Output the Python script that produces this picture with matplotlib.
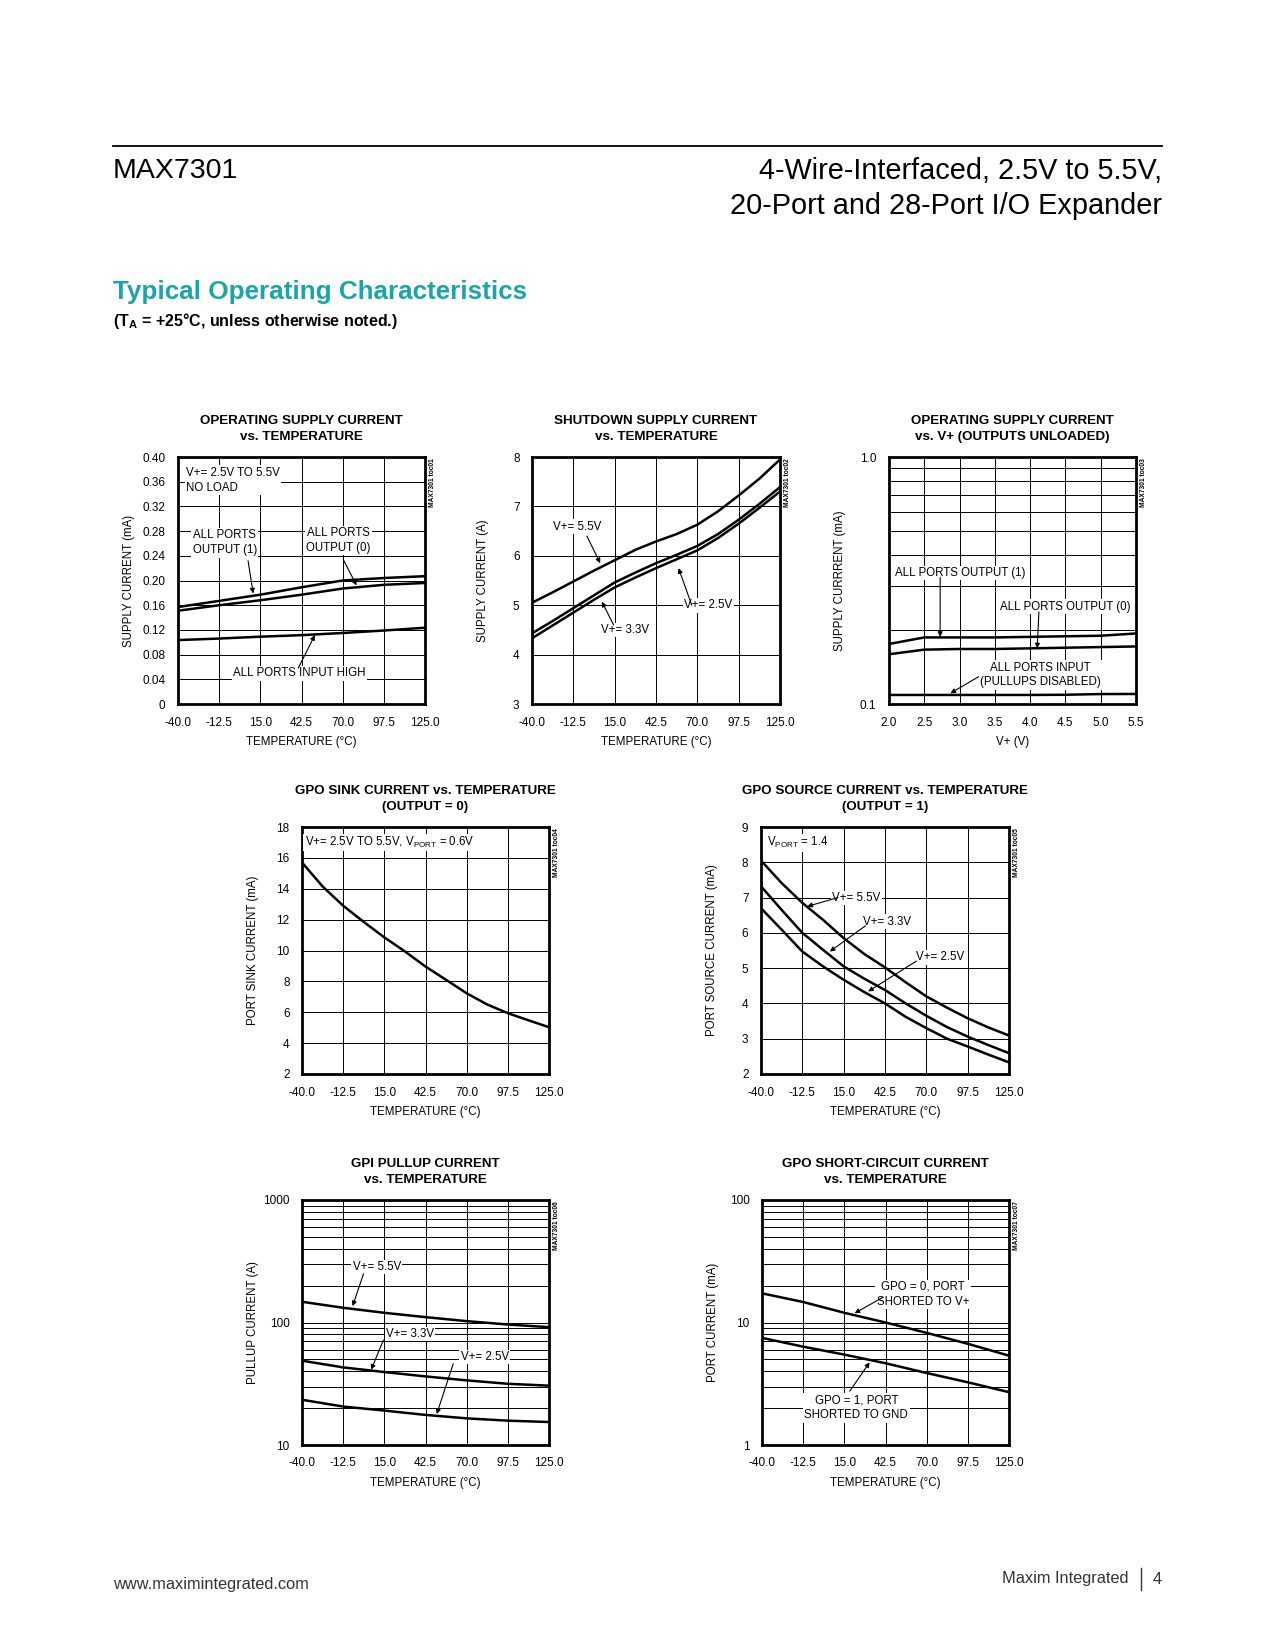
import matplotlib
matplotlib.use("Agg")
import matplotlib.pyplot as plt

# ---- data ----
temps = [-40, -12.5, 15, 42.5, 70, 97.5, 125]
temps13 = [-40, -26.25, -12.5, 1.25, 15, 28.75, 42.5, 56.25, 70, 83.75, 97.5, 111.25, 125]
temp_labels = ["-40.0", "-12.5", "15.0", "42.5", "70.0", "97.5", "125.0"]

# 1: operating supply current vs temperature (mA)
op_out1 = [0.157, 0.167, 0.177, 0.189, 0.200, 0.204, 0.207]
op_out0 = [0.151, 0.160, 0.168, 0.177, 0.187, 0.193, 0.196]
op_inhigh = [0.1035, 0.106, 0.109, 0.1115, 0.115, 0.119, 0.1235]

# 2: shutdown supply current vs temperature
sd_55 = [5.05, 5.26, 5.48, 5.70, 5.91, 6.12, 6.29, 6.44, 6.63, 6.90, 7.22, 7.56, 7.95]
sd_33 = [4.43, 4.68, 4.94, 5.20, 5.46, 5.66, 5.85, 6.02, 6.20, 6.44, 6.73, 7.05, 7.39]
sd_25 = [4.33, 4.59, 4.85, 5.11, 5.36, 5.56, 5.75, 5.93, 6.11, 6.36, 6.65, 6.97, 7.30]

# 3: operating supply current vs V+
vplus = [2.0, 2.5, 3.0, 3.5, 4.0, 4.5, 5.0, 5.5]
vp_out1 = [0.175, 0.186, 0.186, 0.186, 0.187, 0.188, 0.189, 0.193]
vp_out0 = [0.159, 0.166, 0.167, 0.167, 0.168, 0.169, 0.170, 0.171]
vp_input = [0.1088, 0.1088, 0.1088, 0.1088, 0.1088, 0.1090, 0.1097, 0.1098]

# 4: GPO sink current
sink = [15.7, 14.15, 12.9, 11.85, 10.85, 9.94, 8.96, 8.10, 7.23, 6.50, 5.94, 5.48, 5.03]

# 5: GPO source current
src_55 = [8.05, 7.41, 6.85, 6.37, 5.85, 5.40, 5.02, 4.60, 4.20, 3.88, 3.58, 3.32, 3.09]
src_33 = [7.32, 6.65, 6.00, 5.52, 5.05, 4.70, 4.38, 4.00, 3.65, 3.33, 3.06, 2.82, 2.59]
src_25 = [6.70, 6.09, 5.47, 5.05, 4.67, 4.32, 4.00, 3.62, 3.30, 3.00, 2.78, 2.55, 2.33]

# 6: GPI pullup current
pu_55 = [147.6, 131.9, 120.0, 110.6, 102.6, 96.3, 91.6]
pu_33 = [48.8, 43.0, 39.4, 36.3, 33.7, 31.6, 30.5]
pu_25 = [23.4, 20.6, 19.1, 17.6, 16.5, 15.8, 15.4]

# 7: GPO short-circuit current
sc_gpo0 = [17.3, 14.7, 12.0, 10.0, 8.23, 6.7, 5.36]
sc_gpo1 = [7.49, 6.35, 5.47, 4.65, 3.87, 3.25, 2.70]

W, H = 1275, 1650
plt.rcParams["font.family"] = ["Liberation Sans Narrow", "Liberation Sans", "DejaVu Sans"]
plt.rcParams["mathtext.fontset"] = "custom"
plt.rcParams["mathtext.rm"] = "Liberation Sans"

fig = plt.figure(figsize=(W / 100, H / 100), dpi=100)
fig.patch.set_facecolor("white")

FS = 8.3  # annotation text size


def make_ax(l, t, r, b):
    ax = fig.add_axes([l / W, 1 - b / H, (r - l) / W, (b - t) / H])
    for s in ax.spines.values():
        s.set_linewidth(2.0)
    ax.tick_params(which="both", length=0, pad=9, labelsize=8.5)
    ax.set_axisbelow(True)
    return ax


def finish(ax, title, xlabel, ylabel, toc):
    ax.set_title(title, fontsize=9.6, fontweight="bold", pad=12.5, linespacing=1.4)
    ax.set_xlabel(xlabel, fontsize=8.3)
    ax.set_ylabel(ylabel, fontsize=8.3)
    ax.xaxis.set_label_coords(0.5, -0.155)
    ax.xaxis.label.set_va("center")
    ax.yaxis.set_label_coords(-0.198, 0.5)
    ax.yaxis.label.set_va("center")
    ax.text(1.03, 0.995, toc, transform=ax.transAxes, rotation=90, ha="center",
            va="top", fontsize=4.8, fontweight="bold")


box = dict(boxstyle="square,pad=0.12", fc="white", ec="none")
arw = dict(arrowstyle="-|>", lw=0.8, color="k", mutation_scale=7, shrinkA=0, shrinkB=0)


def label(ax, txt, pos, ha="center"):
    ax.text(pos[0], pos[1], txt, fontsize=FS, ha=ha, va="center",
            bbox=box, linespacing=1.3)


def arrow(ax, tail, head):
    ax.annotate("", xy=head, xytext=tail, arrowprops=arw)


def temp_axis(ax):
    ax.set_xlim(-40, 125)
    ax.set_xticks(temps)
    ax.set_xticklabels(temp_labels)


grid_kw = dict(color="black", lw=0.7)
curve_kw = dict(color="black", lw=1.8)

# ---- chart 1 ----
ax = make_ax(178, 457, 425, 704)
temp_axis(ax)
ax.set_ylim(0, 0.40)
yt = [i * 0.04 for i in range(11)]
ax.set_yticks(yt)
ax.set_yticklabels(["0"] + ["%.2f" % v for v in yt[1:]])
ax.grid(True, **grid_kw)
ax.plot(temps, op_out1, **curve_kw)
ax.plot(temps, op_out0, **curve_kw)
ax.plot(temps, op_inhigh, **curve_kw)
ax.text(-34.5, 0.384, "V+= 2.5V TO 5.5V\nNO LOAD", fontsize=FS, ha="left", va="top",
        bbox=box, linespacing=1.3)
label(ax, "ALL PORTS\nOUTPUT (1)", (-8.8, 0.261))
arrow(ax, (6.8, 0.232), (10.2, 0.179))
label(ax, "ALL PORTS\nOUTPUT (0)", (67, 0.265))
arrow(ax, (70.4, 0.234), (79.3, 0.192))
label(ax, "ALL PORTS INPUT HIGH", (41, 0.0496))
arrow(ax, (40.3, 0.058), (51.4, 0.1116))
finish(ax, "OPERATING SUPPLY CURRENT\nvs. TEMPERATURE", "TEMPERATURE (°C)",
       "SUPPLY CURRENT (mA)", "MAX7301 toc01")

# ---- chart 2 ----
ax = make_ax(532, 457, 780, 704)
temp_axis(ax)
ax.set_ylim(3, 8)
ax.set_yticks([3, 4, 5, 6, 7, 8])
ax.grid(True, **grid_kw)
ax.plot(temps13, sd_55, **curve_kw)
ax.plot(temps13, sd_33, **curve_kw)
ax.plot(temps13, sd_25, **curve_kw)
label(ax, "V+= 5.5V", (-10.1, 6.59))
arrow(ax, (-3.5, 6.40), (5.4, 5.85))
label(ax, "V+= 3.3V", (22, 4.5))
arrow(ax, (14.3, 4.6), (6.5, 5.07))
label(ax, "V+= 2.5V", (77.4, 5.0))
arrow(ax, (66.3, 5.0), (57.5, 5.75))
finish(ax, "SHUTDOWN SUPPLY CURRENT\nvs. TEMPERATURE", "TEMPERATURE (°C)",
       "SUPPLY CURRENT (A)", "MAX7301 toc02")

# ---- chart 3 ----
ax = make_ax(889, 457, 1136, 704)
ax.set_xlim(2.0, 5.5)
ax.set_xticks(vplus)
ax.set_xticklabels(["%.1f" % v for v in vplus])
ax.set_yscale("log")
ax.set_ylim(0.1, 1.0)
ax.set_yticks([0.1, 1.0])
ax.set_yticklabels(["0.1", "1.0"])
ax.set_yticks([0.1 * k for k in range(2, 10)], minor=True)
ax.yaxis.set_minor_formatter(plt.NullFormatter())
ax.grid(True, which="both", **grid_kw)
ax.plot(vplus, vp_out1, **curve_kw)
ax.plot(vplus, vp_out0, **curve_kw)
ax.plot(vplus, vp_input, **curve_kw)
label(ax, "ALL PORTS OUTPUT (1)", (3.01, 0.339))
arrow(ax, (2.725, 0.325), (2.725, 0.187))
label(ax, "ALL PORTS OUTPUT (0)", (4.50, 0.248))
arrow(ax, (4.124, 0.236), (4.10, 0.168))
label(ax, "ALL PORTS INPUT\n(PULLUPS DISABLED)", (4.148, 0.131))
arrow(ax, (3.27, 0.129), (2.87, 0.1105))
finish(ax, "OPERATING SUPPLY CURRENT\nvs. V+ (OUTPUTS UNLOADED)", "V+ (V)",
       "SUPPLY CURRRENT (mA)", "MAX7301 toc03")

# ---- chart 4 ----
ax = make_ax(302, 827, 549, 1074)
temp_axis(ax)
ax.set_ylim(2, 18)
ax.set_yticks(range(2, 19, 2))
ax.grid(True, **grid_kw)
ax.plot(temps13, sink, **curve_kw)
ax.text(-38.3, 17.0, "V+= 2.5V TO 5.5V, V$_\\mathregular{PORT}$ = 0.6V", fontsize=FS,
        ha="left", va="center", bbox=box)
finish(ax, "GPO SINK CURRENT vs. TEMPERATURE\n(OUTPUT = 0)", "TEMPERATURE (°C)",
       "PORT SINK CURRENT (mA)", "MAX7301 toc04")

# ---- chart 5 ----
ax = make_ax(761, 827, 1009, 1074)
temp_axis(ax)
ax.set_ylim(2, 9)
ax.set_yticks(range(2, 10))
ax.grid(True, **grid_kw)
ax.plot(temps13, src_55, **curve_kw)
ax.plot(temps13, src_33, **curve_kw)
ax.plot(temps13, src_25, **curve_kw)
ax.text(-36.0, 8.55, "V$_\\mathregular{PORT}$ = 1.4", fontsize=FS, ha="left",
        va="center", bbox=box)
label(ax, "V+= 5.5V", (23.6, 6.99))
arrow(ax, (11.2, 7.0), (-9.2, 6.75))
label(ax, "V+= 3.3V", (43.5, 6.32))
arrow(ax, (29.5, 6.2), (5.8, 5.47))
label(ax, "V+= 2.5V", (79, 5.31))
arrow(ax, (63.4, 5.2), (31.3, 4.34))
finish(ax, "GPO SOURCE CURRENT vs. TEMPERATURE\n(OUTPUT = 1)", "TEMPERATURE (°C)",
       "PORT SOURCE CURRENT (mA)", "MAX7301 toc05")

# ---- chart 6 ----
ax = make_ax(302, 1200, 549, 1445)
temp_axis(ax)
ax.set_yscale("log")
ax.set_ylim(10, 1000)
ax.set_yticks([10, 100, 1000])
ax.set_yticklabels(["10", "100", "1000"])
ax.set_yticks([10 * k for k in range(2, 10)] + [100 * k for k in range(2, 10)], minor=True)
ax.yaxis.set_minor_formatter(plt.NullFormatter())
ax.grid(True, which="both", **grid_kw)
ax.plot(temps, pu_55, **curve_kw)
ax.plot(temps, pu_33, **curve_kw)
ax.plot(temps, pu_25, **curve_kw)
label(ax, "V+= 5.5V", (10.0, 284))
arrow(ax, (1.1, 250), (-6.2, 136))
label(ax, "V+= 3.3V", (32.2, 80.7))
arrow(ax, (14.4, 72), (6.2, 41.2))
label(ax, "V+= 2.5V", (82.1, 52.3))
arrow(ax, (61, 46), (50, 17.9))
finish(ax, "GPI PULLUP CURRENT\nvs. TEMPERATURE", "TEMPERATURE (°C)",
       "PULLUP CURRENT (A)", "MAX7301 toc06")

# ---- chart 7 ----
ax = make_ax(762, 1200, 1009, 1445)
temp_axis(ax)
ax.set_yscale("log")
ax.set_ylim(1, 100)
ax.set_yticks([1, 10, 100])
ax.set_yticklabels(["1", "10", "100"])
ax.set_yticks([k for k in range(2, 10)] + [10 * k for k in range(2, 10)], minor=True)
ax.yaxis.set_minor_formatter(plt.NullFormatter())
ax.grid(True, which="both", **grid_kw)
ax.plot(temps, sc_gpo0, **curve_kw)
ax.plot(temps, sc_gpo1, **curve_kw)
label(ax, "GPO = 0, PORT\nSHORTED TO V+", (67.5, 17.0))
arrow(ax, (40.5, 16.0), (21.9, 11.9))
label(ax, "GPO = 1, PORT\nSHORTED TO GND", (23.0, 2.0))
arrow(ax, (18.6, 2.75), (31.9, 4.73))
finish(ax, "GPO SHORT-CIRCUIT CURRENT\nvs. TEMPERATURE", "TEMPERATURE (°C)",
       "PORT CURRENT (mA)", "MAX7301 toc07")

# ---- page header / footer ----
fig.add_artist(plt.Line2D([113 / W, 1162 / W], [1 - 146 / H, 1 - 146 / H], color="black", lw=1.3))
fig.text(113 / W, 1 - 171 / H, "MAX7301", fontsize=20.5, family="Liberation Sans",
         ha="left", va="center")
fig.text(1162 / W, 1 - 171 / H, "4-Wire-Interfaced, 2.5V to 5.5V,", fontsize=20.8,
         family="Liberation Sans", ha="right", va="center")
fig.text(1162 / W, 1 - 206 / H, "20-Port and 28-Port I/O Expander", fontsize=20.8,
         family="Liberation Sans", ha="right", va="center")
fig.text(113 / W, 1 - 292 / H, "Typical Operating Characteristics", fontsize=18.7,
         fontweight="bold", color="#19a5a9", ha="left", va="center")
fig.text(113 / W, 1 - 321 / H, "(T$_\\mathregular{A}$ = +25°C, unless otherwise noted.)",
         fontsize=11.5, fontweight="bold", family="Liberation Sans", ha="left", va="center")
fig.text(113 / W, 1 - 1584 / H, "www.maximintegrated.com", fontsize=11.8,
         family="Liberation Sans", color="#333333", ha="left", va="center")
fig.text(1128 / W, 1 - 1579 / H, "Maxim Integrated", fontsize=11.8,
         family="Liberation Sans", color="#333333", ha="right", va="center")
fig.add_artist(plt.Line2D([1141 / W, 1141 / W], [1 - 1568 / H, 1 - 1590 / H], color="#333333", lw=1))
fig.text(1162 / W, 1 - 1579 / H, "4", fontsize=11.8, family="Liberation Sans",
         color="#333333", ha="right", va="center")

fig.savefig("out.png", dpi=100, facecolor="white")
